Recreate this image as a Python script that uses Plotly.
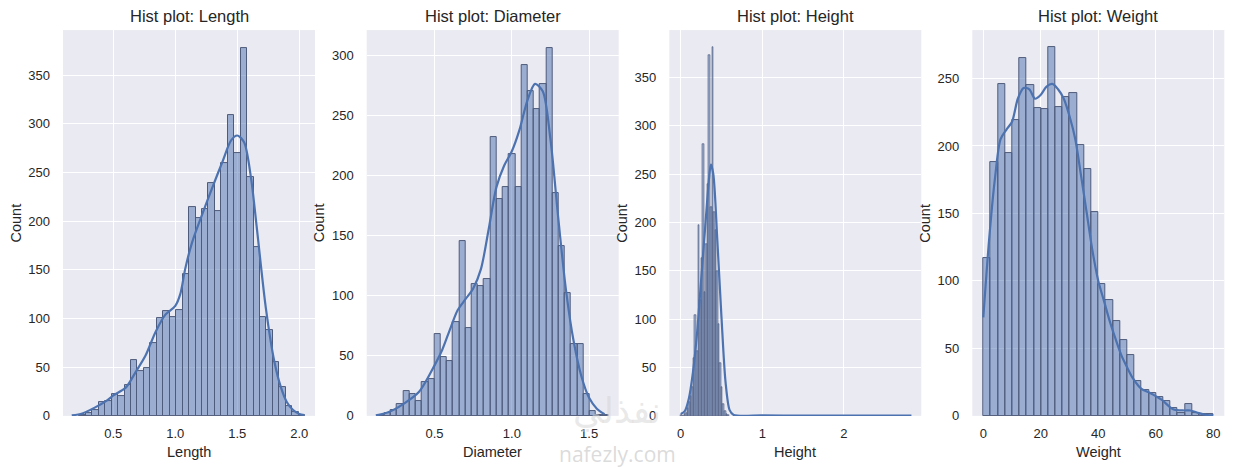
import numpy as np
import plotly.graph_objects as go

# ---------------- data ----------------
length_bin_start = 0.227
length_bin_width = 0.052
length_counts = [1, 3, 6, 14, 15, 22, 20, 32, 57, 46, 49, 75, 100, 108, 101, 109,
                 146, 215, 203, 212, 239, 210, 260, 309, 270, 378, 245, 173, 101,
                 88, 55, 30, 10, 4, 1]
length_kde_x = [0.165, 0.25, 0.35, 0.45, 0.5, 0.6, 0.68, 0.76, 0.84, 0.92, 1.0, 1.04,
                1.08, 1.135, 1.22, 1.3, 1.38, 1.45, 1.5, 1.555, 1.61, 1.66, 1.73,
                1.8, 1.85, 1.9, 1.95, 2.0, 2.04]
length_kde_y = [0.5, 2.5, 8.5, 16, 21, 29, 45, 62, 86, 104, 113, 125, 151, 178, 208,
                235, 261, 283, 288, 281, 245, 190, 111, 55, 30, 14, 6, 2, 0.8]

diameter_bin_start = 0.1375
diameter_bin_width = 0.0402
diameter_counts = [1, 2, 5, 10, 21, 18, 12, 28, 31, 68, 49, 46, 78, 145, 73, 110, 108,
                   114, 232, 180, 190, 218, 190, 292, 270, 255, 276, 306, 185, 141,
                   102, 60, 60, 18, 4, 1, 1]
diameter_kde_x = [0.12, 0.2, 0.3, 0.4, 0.5, 0.55, 0.6, 0.65, 0.7, 0.75, 0.8, 0.85,
                  0.9, 0.95, 1.0, 1.05, 1.1, 1.15, 1.2, 1.25, 1.3, 1.35, 1.4, 1.45,
                  1.5, 1.55, 1.6]
diameter_kde_y = [0.5, 3, 10, 20, 42, 55, 72, 88, 97, 106, 122, 155, 190, 208, 220,
                  238, 262, 276, 270, 230, 165, 105, 62, 33, 15, 6, 1.5]

height_bin_start = 0.0
height_bin_width = 0.019088
height_counts = [1, 0, 2, 3, 8, 14, 20, 30, 60, 104, 67, 197, 120, 163, 281, 128,
                 178, 240, 373, 216, 381, 211, 192, 150, 95, 55, 30, 12, 5, 2, 1]
height_kde_x = [0.0, 0.05, 0.1, 0.15, 0.2, 0.25, 0.3, 0.35, 0.37, 0.4, 0.45, 0.5,
                0.55, 0.6, 0.65, 1.0, 1.5, 2.0, 2.5, 2.83]
height_kde_y = [2, 5, 18, 45, 85, 140, 195, 248, 260, 250, 180, 102, 35, 6, 1,
                0.5, 0.4, 0.3, 0.3, 0.3]

weight_bin_start = 0.056
weight_bin_width = 2.5013
weight_counts = [117, 188, 246, 195, 219, 265, 245, 228, 227, 273, 229, 236, 239,
                 201, 183, 151, 98, 86, 70, 56, 45, 26, 19, 17, 14, 11, 6, 2, 9, 2,
                 1, 1]
weight_kde_x = [0, 2, 4, 6, 8, 10, 12, 14, 16, 18, 20, 22, 24, 26, 28, 30, 32, 34,
                36, 38, 40, 42, 44, 46, 48, 50, 52, 55, 58, 62, 66, 70, 72, 75, 78, 80]
weight_kde_y = [73, 130, 175, 205, 212, 218, 235, 243, 242, 235, 238, 244, 246, 242,
                235, 222, 205, 178, 150, 122, 100, 85, 70, 57, 45, 36, 28, 20, 17,
                12, 5, 4, 4, 2, 0.5, 0.5]

titles = ["Hist plot: Length", "Hist plot: Diameter", "Hist plot: Height", "Hist plot: Weight"]
xlabels = ["Length", "Diameter", "Height", "Weight"]
x_ticks = [[0.5, 1.0, 1.5, 2.0], [0.5, 1.0, 1.5], [0, 1, 2], [0, 20, 40, 60, 80]]
x_ticklabels = [["0.5", "1.0", "1.5", "2.0"], ["0.5", "1.0", "1.5"], ["0", "1", "2"],
                ["0", "20", "40", "60", "80"]]
y_ticks = [[0, 50, 100, 150, 200, 250, 300, 350], [0, 50, 100, 150, 200, 250, 300],
           [0, 50, 100, 150, 200, 250, 300, 350], [0, 50, 100, 150, 200, 250]]

# ---------------- layout geometry (reference pixels) ----------------
W = 1235
REF_H = 468      # reference picture height
H = 477          # page height of the figure (capture is fitted to 468)
plot_left = [63, 366.7, 669.3, 972.3]
plot_width = 252
plot_top, plot_bottom = 30, 415
x_ranges = [[0.0944, 2.1266], [0.061, 1.6915], [-0.14, 2.951], [-3.83, 83.83]]
y_ranges = [[0, 396.3], [0, 320.8], [0, 399.0], [0, 285.9]]


def py(v):
    return 1 - v / REF_H


FONT = "Liberation Sans, Arial, Helvetica, sans-serif"
TXT = "#262626"
BAR_FILL = "rgba(76,114,176,0.5)"
BAR_EDGE = "#4f5b7a"
KDE = "#4C72B0"
BG = "#EAEAF2"
edge_widths = [1, 1, 0.6, 1]

series = [
    (length_bin_start, length_bin_width, length_counts, length_kde_x, length_kde_y),
    (diameter_bin_start, diameter_bin_width, diameter_counts, diameter_kde_x, diameter_kde_y),
    (height_bin_start, height_bin_width, height_counts, height_kde_x, height_kde_y),
    (weight_bin_start, weight_bin_width, weight_counts, weight_kde_x, weight_kde_y),
]

fig = go.Figure()
annotations = []
layout_axes = {}

for i, (b0, bw, counts, kx, ky) in enumerate(series):
    n = i + 1
    xa = "x" if n == 1 else f"x{n}"
    ya = "y" if n == 1 else f"y{n}"
    centers = b0 + (np.arange(len(counts)) + 0.5) * bw
    fig.add_trace(go.Bar(
        x=centers, y=counts, width=bw, xaxis=xa, yaxis=ya,
        marker=dict(color=BAR_FILL, line=dict(color=BAR_EDGE, width=edge_widths[i])),
        showlegend=False, hoverinfo="x+y",
    ))
    fig.add_trace(go.Scatter(
        x=kx, y=ky, mode="lines", xaxis=xa, yaxis=ya,
        line=dict(color=KDE, width=2.2, shape="spline", smoothing=0.8),
        showlegend=False, hoverinfo="skip",
    ))

    x0 = plot_left[i] / W
    x1 = (plot_left[i] + plot_width) / W
    xkey = "xaxis" if n == 1 else f"xaxis{n}"
    ykey = "yaxis" if n == 1 else f"yaxis{n}"
    layout_axes[xkey] = dict(
        domain=[x0, x1], anchor=ya, range=x_ranges[i],
        tickvals=x_ticks[i], ticktext=x_ticklabels[i],
        showgrid=True, gridcolor="white", gridwidth=1, zeroline=False,
        showline=False, ticks="", ticklabelstandoff=8,
        tickfont=dict(family=FONT, size=13, color=TXT),
    )
    layout_axes[ykey] = dict(
        domain=[py(plot_bottom), py(plot_top)], anchor=xa, range=y_ranges[i],
        tickvals=y_ticks[i],
        showgrid=True, gridcolor="white", gridwidth=1, zeroline=False,
        showline=False, ticks="", ticklabelstandoff=12,
        tickfont=dict(family=FONT, size=13, color=TXT),
    )
    cx = (plot_left[i] + plot_width / 2) / W
    annotations.append(dict(
        text=titles[i], x=cx, y=py(16), xref="paper", yref="paper",
        showarrow=False, xanchor="center", yanchor="middle",
        font=dict(family=FONT, size=16.5, color=TXT),
    ))
    annotations.append(dict(
        text=xlabels[i], x=cx, y=py(451), xref="paper", yref="paper",
        showarrow=False, xanchor="center", yanchor="middle",
        font=dict(family=FONT, size=14.5, color=TXT),
    ))
    annotations.append(dict(
        text="Count", x=(plot_left[i] - 47.5) / W, y=py((plot_top + plot_bottom) / 2),
        xref="paper", yref="paper", textangle=-90,
        showarrow=False, xanchor="center", yanchor="middle",
        font=dict(family=FONT, size=14.5, color=TXT),
    ))

# watermark
annotations.append(dict(
    text="نفذلي", x=617 / W, y=py(410), xref="paper", yref="paper",
    showarrow=False, xanchor="center", yanchor="middle",
    font=dict(family="DejaVu Sans, sans-serif", size=36, color="rgba(215,215,215,0.55)"),
))
annotations.append(dict(
    text="nafezly.com", x=617 / W, y=py(453), xref="paper", yref="paper",
    showarrow=False, xanchor="center", yanchor="middle",
    font=dict(family="Open Sans, DejaVu Sans, sans-serif", size=21, color="rgba(195,195,195,0.6)"),
))

fig.update_layout(
    width=W, height=H, autosize=False,
    margin=dict(l=0, r=0, t=0, b=0),
    paper_bgcolor="white", plot_bgcolor=BG,
    bargap=0, barmode="overlay",
    annotations=annotations,
    **layout_axes,
)

css_fix = (
    "var s=document.createElement('style');"
    "s.textContent='html,body{margin:0;padding:0;overflow:hidden;}';"
    "document.head.appendChild(s);"
)

fig.write_html(
    "out.html",
    config={"displayModeBar": False, "responsive": False},
    post_script=css_fix,
)
